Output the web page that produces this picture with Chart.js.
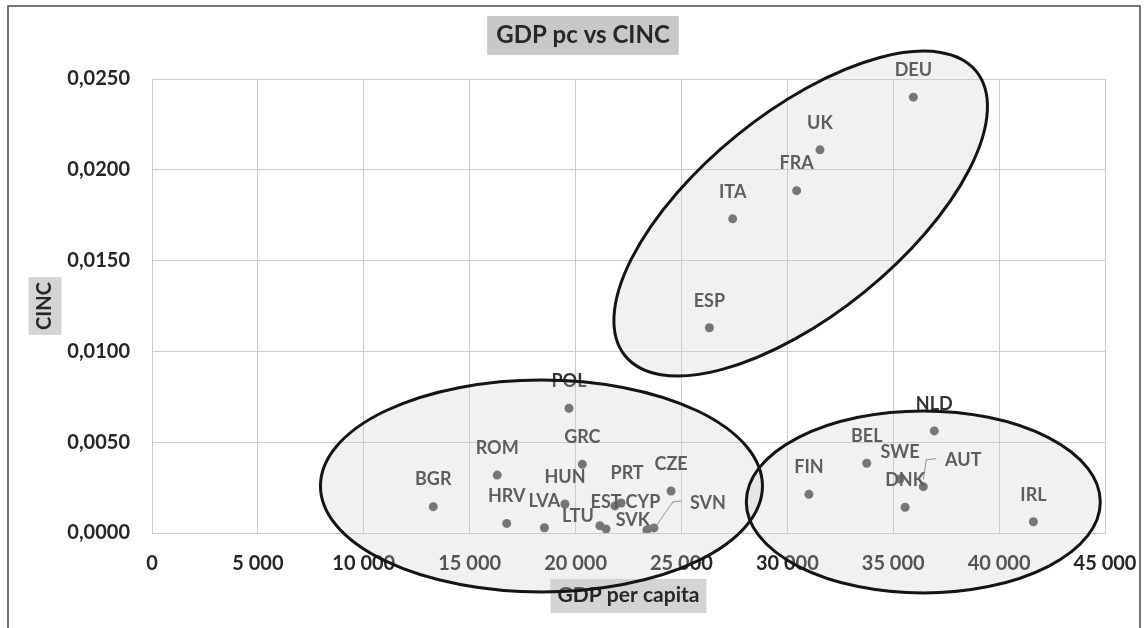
<!DOCTYPE html>
<html><head><meta charset="utf-8">
<script src="https://cdn.jsdelivr.net/npm/chart.js@4.4.1/dist/chart.umd.min.js"></script>
<style>html,body{margin:0;padding:0;background:#fff;}#wrap{width:1148px;height:628px;position:relative;}</style>
</head><body><div id="wrap"><canvas id="c"></canvas></div>
<script>
// ---- data ----
const countries = ['DEU','UK','FRA','ITA','ESP','POL','GRC','ROM','BGR','HRV','HUN','LVA','LTU','EST','PRT','SVK','CYP','SVN','CZE','FIN','BEL','SWE','DNK','AUT','NLD','IRL'];
const gdpPerCapita = [35950,31540,30440,27420,26320,19690,20320,16300,13280,16750,19500,18530,21150,21440,22150,21860,23370,23700,24510,31020,33750,35320,35560,36420,36940,41620];
const cincValues = [0.0240,0.0211,0.01885,0.0173,0.0113,0.00687,0.00378,0.00319,0.00145,0.00053,0.00160,0.00029,0.00040,0.00022,0.00165,0.00149,0.00017,0.00028,0.00231,0.00213,0.00384,0.00297,0.00142,0.00255,0.00562,0.00062];
const xTickValues = [0,5000,10000,15000,20000,25000,30000,35000,40000,45000];
const xTickLabels = ['0','5 000','10 000','15 000','20 000','25 000','30 000','35 000','40 000','45 000'];
const yTickValues = [0,0.005,0.010,0.015,0.020,0.025];
const yTickLabels = ['0,0000','0,0050','0,0100','0,0150','0,0200','0,0250'];
const chartTitle = 'GDP pc vs CINC';
const xTitle = 'GDP per capita';
const yTitle = 'CINC';

// ---- label placement (pixel offsets of label centre from its point) ----
const defaultLabelOffset = [0, -27];
const labelOffsets = { LTU: [-22, -10], PRT: [6, -30], SVK: [18, 14], CYP: [-4, -28], SVN: [54, -25], AUT: [40, -27] };
const leaderLines = { SVN: [[3, -3], [19, -26], [28, -27]], AUT: [[0, -7], [3, -27], [13, -28]] };

// ---- group ellipses (centre in data units, semi-axes in px, rotation in degrees) ----
const groupEllipses = [
  { cx: 18390, cy: 0.00259, rx: 221, ry: 106, rot: 0 },
  { cx: 36420, cy: 0.00171, rx: 177, ry: 91, rot: 0 },
  { cx: 30630, cy: 0.01759, rx: 226, ry: 101, rot: -39 }
];

const FONT = 'Lato, "Open Sans", sans-serif';

const decor = {
  id: 'decor',
  afterLayout(chart) { chart.titleBlock.left += 28; },
  beforeDraw(chart) {
    const ctx = chart.ctx, ca = chart.chartArea;
    ctx.save();
    ctx.fillStyle = '#ffffff';
    ctx.fillRect(0, 0, chart.width, chart.height);
    // title box
    const tb = chart.titleBlock;
    ctx.font = 'bold 24px ' + FONT;
    let w = ctx.measureText(chartTitle).width;
    let cx = (tb.left + tb.right) / 2, cy = tb.top + 21 + 14.4;
    ctx.fillStyle = '#c8c8c8';
    ctx.fillRect(cx - w / 2 - 9, cy - 19.5, w + 18, 39);
    // y title box
    const ys = chart.scales.y;
    ctx.font = 'bold 20px ' + FONT;
    w = ctx.measureText(yTitle).width;
    cx = ys.left + 12; cy = (ca.top + ca.bottom) / 2;
    ctx.fillStyle = '#d4d4d4';
    ctx.fillRect(cx - 16.5, cy - w / 2 - 5, 33, w + 10);
    // x title box
    const xs = chart.scales.x;
    ctx.font = 'bold 21px ' + FONT;
    w = ctx.measureText(xTitle).width;
    cx = (ca.left + ca.right) / 2; cy = xs.bottom - 12.6;
    ctx.fillStyle = '#d4d4d4';
    ctx.fillRect(cx - w / 2 - 7, cy - 16.5, w + 14, 34);
    ctx.restore();
  },
  afterDatasetsDraw(chart) {
    const ctx = chart.ctx;
    const pts = chart.getDatasetMeta(0).data;
    ctx.save();
    ctx.strokeStyle = '#7a7a7a';
    ctx.lineWidth = 1;
    Object.keys(leaderLines).forEach(name => {
      const p = pts[countries.indexOf(name)];
      const seg = leaderLines[name];
      ctx.beginPath();
      seg.forEach((o, k) => { const X = p.x + o[0], Y = p.y + o[1]; if (k) ctx.lineTo(X, Y); else ctx.moveTo(X, Y); });
      ctx.stroke();
    });
    ctx.font = 'bold 18px ' + FONT;
    ctx.fillStyle = '#333333';
    ctx.textAlign = 'center';
    ctx.textBaseline = 'middle';
    countries.forEach((name, i) => {
      const p = pts[i];
      const o = labelOffsets[name] || defaultLabelOffset;
      ctx.fillText(name, p.x + o[0], p.y + o[1]);
    });
    ctx.restore();
  },
  afterDraw(chart) {
    const ctx = chart.ctx, xs = chart.scales.x, ys = chart.scales.y;
    ctx.save();
    groupEllipses.forEach(e => {
      ctx.beginPath();
      ctx.ellipse(xs.getPixelForValue(e.cx), ys.getPixelForValue(e.cy), e.rx, e.ry, e.rot * Math.PI / 180, 0, Math.PI * 2);
      ctx.fillStyle = 'rgba(205,205,205,0.28)';
      ctx.fill();
    });
    groupEllipses.forEach(e => {
      ctx.beginPath();
      ctx.ellipse(xs.getPixelForValue(e.cx), ys.getPixelForValue(e.cy), e.rx, e.ry, e.rot * Math.PI / 180, 0, Math.PI * 2);
      ctx.strokeStyle = '#141414';
      ctx.lineWidth = 3;
      ctx.stroke();
    });
    ctx.strokeStyle = '#4a4a4a';
    ctx.lineWidth = 1.5;
    ctx.strokeRect(8, 6, 1132, 700);
    ctx.restore();
  }
};

new Chart(document.getElementById('c'), {
  type: 'scatter',
  data: {
    datasets: [{
      label: 'Countries',
      data: countries.map((c, i) => ({ x: gdpPerCapita[i], y: cincValues[i] })),
      pointRadius: 4.5,
      pointHoverRadius: 4.5,
      pointBackgroundColor: '#555555',
      pointBorderColor: '#555555',
      pointBorderWidth: 0
    }]
  },
  options: {
    responsive: true,
    maintainAspectRatio: false,
    animation: false,
    events: [],
    layout: { padding: { left: 33, right: 43, top: 0, bottom: 20 } },
    plugins: {
      legend: { display: false },
      tooltip: { enabled: false },
      title: {
        display: true, text: chartTitle, color: '#262626',
        font: { family: FONT, size: 24, weight: 'bold', lineHeight: 1.2 },
        padding: { top: 21, bottom: 29.2 }
      }
    },
    scales: {
      x: {
        type: 'linear', min: 0, max: 45000,
        afterBuildTicks: s => { s.ticks = xTickValues.map(v => ({ value: v })); },
        afterFit: s => { s.height = 75; s.paddingLeft = 0; s.paddingRight = 0; },
        ticks: {
          callback: v => xTickLabels[xTickValues.indexOf(v)],
          color: '#262626', padding: 19, maxRotation: 0,
          font: { family: FONT, size: 20, weight: 'bold', lineHeight: 1.2 }
        },
        grid: { color: '#cccccc', lineWidth: 1, drawTicks: false },
        border: { color: '#cccccc', width: 1 },
        title: {
          display: true, text: xTitle, color: '#262626',
          font: { family: FONT, size: 21, weight: 'bold', lineHeight: 1.2 },
          padding: { top: 0, bottom: 0 }
        }
      },
      y: {
        type: 'linear', min: 0, max: 0.025,
        afterBuildTicks: s => { s.ticks = yTickValues.map(v => ({ value: v })); },
        afterFit: s => { s.width = 119; s.paddingTop = 0; s.paddingBottom = 0; },
        ticks: {
          callback: v => yTickLabels[yTickValues.findIndex(t => Math.abs(t - v) < 1e-9)],
          color: '#262626', padding: 22,
          font: { family: FONT, size: 20, weight: 'bold', lineHeight: 1.2 }
        },
        grid: { color: '#cccccc', lineWidth: 1, drawTicks: false },
        border: { color: '#cccccc', width: 1 },
        title: {
          display: true, text: yTitle, color: '#262626',
          font: { family: FONT, size: 20, weight: 'bold', lineHeight: 1.2 },
          padding: { top: 0, bottom: 0 }
        }
      }
    }
  },
  plugins: [decor]
});
</script>
</body></html>
